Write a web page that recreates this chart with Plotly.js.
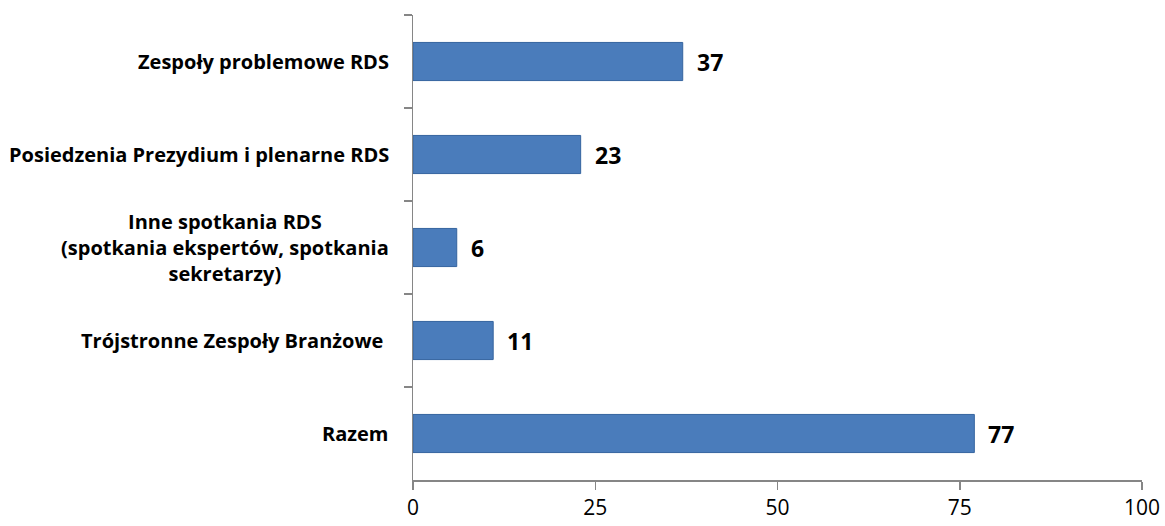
<!DOCTYPE html>
<html>
<head>
<meta charset="utf-8">
<script src="https://cdn.plot.ly/plotly-3.0.1.min.js"></script>
<style>html,body{margin:0;padding:0;background:#fff;}#chart{width:1165px;height:526px;}</style>
</head>
<body>
<div id="chart"></div>
<script>
// top to bottom order as in the picture
const categories = [
  "Zespoły problemowe RDS",
  "Posiedzenia Prezydium i plenarne RDS",
  "Inne spotkania RDS<br>(spotkania ekspertów, spotkania<br>sekretarzy)",
  "Trójstronne Zespoły Branżowe ",
  "Razem"
];
const values = [37, 23, 6, 11, 77];
const xTicks = [0, 25, 50, 75, 100];

const trace = {
  type: "bar",
  orientation: "h",
  x: values,
  y: categories,
  width: 0.41,
  marker: {color: "#4a7cbb", line: {color: "#35649f", width: 1}},
  hoverinfo: "skip"
};

const annotations = [];
categories.forEach((c, i) => {
  annotations.push({
    xref: "paper", yref: "y", x: 0, y: c, xanchor: "right", yanchor: "middle",
    xshift: -22, text: c, showarrow: false, align: "center",
    font: {family: "'Open Sans', sans-serif", size: 20, color: "#000", weight: "bold"}
  });
  annotations.push({
    xref: "x", yref: "y", x: values[i], y: c, xanchor: "left", yanchor: "middle",
    xshift: 12, text: "<b>" + values[i] + "</b>", showarrow: false,
    font: {family: "'Open Sans', sans-serif", size: 23, color: "#000"}
  });
});

const layout = {
  width: 1165, height: 526,
  margin: {l: 413, r: 23, t: 15, b: 46},
  paper_bgcolor: "#fff", plot_bgcolor: "#fff",
  showlegend: false,
  xaxis: {
    range: [0, 100], tickvals: xTicks, ticktext: xTicks.map(String),
    showgrid: false, zeroline: false, showline: true, linecolor: "#868686", linewidth: 1.5,
    ticks: "outside", ticklen: 8, tickcolor: "#868686", tickwidth: 1.5,
    tickfont: {family: "'Open Sans', sans-serif", size: 21, color: "#000"},
    fixedrange: true
  },
  yaxis: {
    type: "category", autorange: "reversed", categoryorder: "array", categoryarray: categories,
    showticklabels: false, showgrid: false, zeroline: false,
    showline: true, linecolor: "#868686", linewidth: 1.5,
    ticks: "outside", tickson: "boundaries", ticklen: 8, tickcolor: "#868686", tickwidth: 1.5,
    fixedrange: true
  },
  annotations: annotations
};

Plotly.newPlot("chart", [trace], layout, {displayModeBar: false, staticPlot: true});
</script>
</body>
</html>
